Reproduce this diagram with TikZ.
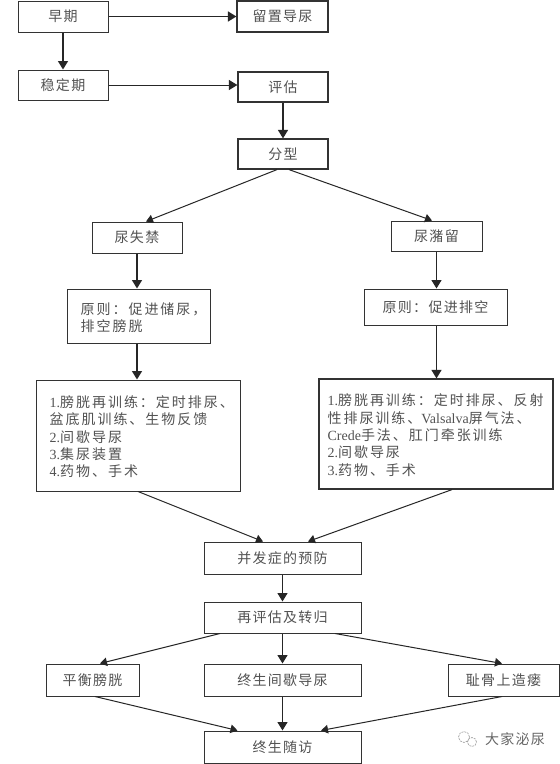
\documentclass[tikz,border=0pt]{standalone}
\usepackage{fontspec}
\setmainfont{Liberation Serif}
\newfontfamily\cjk{Noto Sans CJK SC}[LetterSpace=9]
\newfontfamily\cjklist{Noto Sans CJK SC}[LetterSpace=14]
\newcommand{\ser}[1]{{\fontspec{Liberation Serif}\fontsize{14}{17.3}\selectfont #1}}
\usetikzlibrary{arrows.meta,calc}
\tikzset{
  box/.style={draw=black!80,line width=1pt,fill=white,inner sep=0pt,text=black!68,font=\fontsize{14}{17.3}\selectfont\cjk},
  thick box/.style={box,line width=1.2pt},
  listtext/.style={text=black!68,font=\fontsize{14}{17.3}\selectfont\cjklist,align=left,anchor=north west,inner sep=0pt},
  link/.style={draw=black!85,line width=1.3pt,-{Triangle[length=8.5pt,width=10pt]}},
  slant/.style={draw=black!85,line width=1pt,-{Triangle[length=7pt,width=8.5pt]}},
}
\newcommand{\bx}[7][box]{\node[#1,minimum width=#4pt-#2pt,minimum height=#6pt-#5pt] (#3) at ({(#2+#4)/2},{(#5+#6)/2}) {#7};}
\begin{document}
\begin{tikzpicture}[x=1pt,y=-1pt]
\useasboundingbox (0,0) rectangle (560,764);
\fill[white] (0,0) rectangle (560,764);
\bx{18}{a}{108}{1}{32}{早期}
\bx[thick box]{237}{b}{328}{1}{32}{留置导尿}
\bx{18}{c}{108}{70}{100}{稳定期}
\bx[thick box]{238}{d}{328}{72}{102}{评估}
\bx[thick box]{238}{e}{328}{139}{169}{分型}
\bx{92}{f}{182}{222}{253}{尿失禁}
\bx{391}{g}{482}{221}{251}{尿潴留}
\bx{67}{h}{210}{289}{343}{}
\node[listtext] at (h.north west) [xshift=14pt,yshift=-14pt] {原则：促进储尿，\\排空膀胱};
\bx{364}{i}{507}{289}{325}{原则：促进排空}
\bx{36}{j}{240}{380}{491}{}
\node[listtext] at (j.north west) [xshift=14pt,yshift=-16pt] {\ser{1.}膀胱再训练：定时排尿、\\盆底肌训练、生物反馈\\\ser{2.}间歇导尿\\\ser{3.}集尿装置\\\ser{4.}药物、手术};
\bx[thick box]{319}{k}{553}{379}{489}{}
\node[listtext] at (k.north west) [xshift=9pt,yshift=-15.5pt] {\ser{1.}膀胱再训练：定时排尿、反射\\性排尿训练、\ser{Valsalva}屏气法、\\\ser{Crede}手法、肛门牵张训练\\\ser{2.}间歇导尿\\\ser{3.}药物、手术};
\bx{204}{l}{361}{542}{574}{并发症的预防}
\bx{204}{m}{361}{602}{633}{再评估及转归}
\bx{46}{n}{139}{664}{696}{平衡膀胱}
\bx{204}{o}{361}{664}{696}{终生间歇导尿}
\bx{448}{p}{559}{664}{696}{耻骨上造瘘}
\bx{204}{q}{361}{731}{763}{终生随访}
\draw[link,line width=1.7pt] (a) -- (b);
\draw[link] (a) -- (c);
\draw[link,line width=1pt] (c.east) -- (c.east -| d.west);
\draw[link] (d) -- (e);
\draw[slant] ($(e.south)+(-6,0)$) -- ($(f.north)+(9,0)$);
\draw[slant] ($(e.south)+(6,0)$) -- ($(g.north)+(-4.5,0)$);
\draw[link] (f) -- (f |- h.north);
\draw[link] (g) -- (g |- i.north);
\draw[link] (f |- h.south) -- (f |- j.north);
\draw[link] (g |- i.south) -- (g |- k.north);
\draw[slant] ($(j.south)+(0,0)$) -- ($(l.north)+(-19.5,0)$);
\draw[slant] ($(k.south)+(16,0)$) -- ($(l.north)+(25.5,0)$);
\draw[link] (l) -- (m);
\draw[slant] ($(m.south)+(-62.5,0)$) -- ($(n.north)+(7.5,0)$);
\draw[link] (m) -- (o);
\draw[slant] ($(m.south)+(52.5,0)$) -- ($(p.north)+(-1.5,0)$);
\draw[slant] ($(n.south)+(2.5,0)$) -- ($(q.north)+(-45,0)$);
\draw[link] (o) -- (q);
\draw[slant] ($(p.south)+(-1.5,0)$) -- ($(q.north)+(38.5,0)$);
\node[text=black!60,font=\fontsize{14}{16}\selectfont\cjk,inner sep=0pt] (w) at (515,739) {大家泌尿};
\draw[black!35,line width=.7pt,dash pattern=on 2pt off 1pt] (464,737) circle (5.5pt) (472,742) circle (4.5pt);
\end{tikzpicture}
\end{document}
